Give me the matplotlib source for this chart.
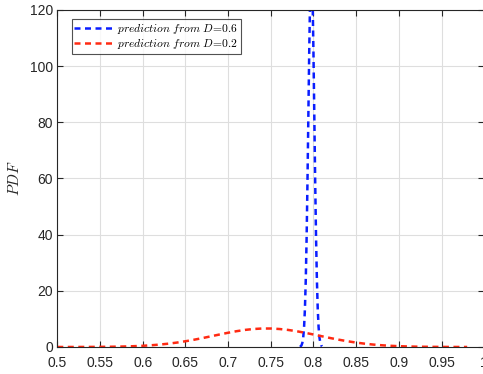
import matplotlib
matplotlib.use("Agg")
import matplotlib.pyplot as plt

plt.rcParams['mathtext.fontset'] = 'cm'

# Red curve: prediction from D=0.2
x_red = [0.50, 0.51, 0.52, 0.53, 0.54, 0.55, 0.56, 0.57, 0.58, 0.59,
         0.60, 0.61, 0.62, 0.63, 0.64, 0.65, 0.66, 0.67, 0.68, 0.69,
         0.70, 0.71, 0.72, 0.73, 0.74, 0.75, 0.76, 0.77, 0.78, 0.79,
         0.80, 0.81, 0.82, 0.83, 0.84, 0.85, 0.86, 0.87, 0.88, 0.89,
         0.90, 0.91, 0.92, 0.93, 0.94, 0.95, 0.96, 0.97, 0.98]
y_red = [0.003, 0.005, 0.009, 0.016, 0.028, 0.047, 0.077, 0.123, 0.191, 0.290,
         0.428, 0.617, 0.865, 1.18, 1.57, 2.04, 2.58, 3.17, 3.81, 4.45,
         5.07, 5.63, 6.09, 6.41, 6.58, 6.58, 6.41, 6.09, 5.63, 5.07,
         4.45, 3.81, 3.17, 2.58, 2.04, 1.57, 1.18, 0.865, 0.617, 0.428,
         0.290, 0.191, 0.123, 0.077, 0.047, 0.028, 0.016, 0.009, 0.005]

# Blue curve: prediction from D=0.6
x_blue = [0.784, 0.785, 0.786, 0.787, 0.788, 0.789,
          0.790, 0.791, 0.792, 0.793, 0.794, 0.795, 0.796, 0.797, 0.798, 0.799,
          0.800, 0.801, 0.802, 0.803, 0.804, 0.805, 0.806, 0.807, 0.808, 0.809,
          0.810]
y_blue = [0.079, 0.23, 0.61, 1.50, 3.40, 7.08,
          13.6, 24.1, 39.3, 59.1, 81.9, 104.6, 123.2, 133.6, 133.6, 123.2,
          104.6, 81.9, 59.1, 39.3, 24.1, 13.6, 7.08, 3.40, 1.50, 0.61,
          0.23]

x_ticks = [0.5, 0.55, 0.6, 0.65, 0.7, 0.75, 0.8, 0.85, 0.9, 0.95, 1.0]
x_ticklabels = ['0.5', '0.55', '0.6', '0.65', '0.7', '0.75', '0.8', '0.85', '0.9', '0.95', '1']
y_ticks = [0, 20, 40, 60, 80, 100, 120]

fig = plt.figure(figsize=(4.83, 3.74), dpi=100)
ax = fig.add_axes([0.1186, 0.0722, 0.884, 0.9011])

ax.plot(x_blue, y_blue, color='#0a1eff', lw=1.8, dashes=(2.4, 1.8),
        label=r'$prediction\ from\ D\!=\!0.6$')
ax.plot(x_red, y_red, color='#ff2a12', lw=1.8, dashes=(2.4, 1.8),
        label=r'$prediction\ from\ D\!=\!0.2$')

ax.set_xlim(0.5, 1.0)
ax.set_ylim(0, 120)
ax.set_xticks(x_ticks)
ax.set_xticklabels(x_ticklabels)
ax.set_yticks(y_ticks)
ax.grid(True, color='#dedede', lw=0.8)
ax.set_axisbelow(True)
for s in ax.spines.values():
    s.set_color('#262626')
    s.set_linewidth(0.8)
ax.tick_params(direction='in', top=True, right=True, length=4, width=0.8,
               colors='#262626', labelsize=10)
ax.tick_params(axis='x', pad=6.5)
ax.tick_params(axis='y', pad=3)
for lab in ax.get_xticklabels() + ax.get_yticklabels():
    lab.set_family('Liberation Sans')

ax.set_ylabel(r'$PDF$', fontsize=11, color='#262626')
ax.yaxis.set_label_coords(-0.082, 0.5)

leg = ax.legend(loc='upper left', bbox_to_anchor=(0.034, 0.973), fontsize=8.3,
                frameon=True, fancybox=False, edgecolor='#262626',
                handlelength=3.4, handletextpad=0.3, borderpad=0.22,
                labelspacing=0.12, borderaxespad=0)
leg.get_frame().set_linewidth(0.8)

fig.savefig('out.png', dpi=100)
